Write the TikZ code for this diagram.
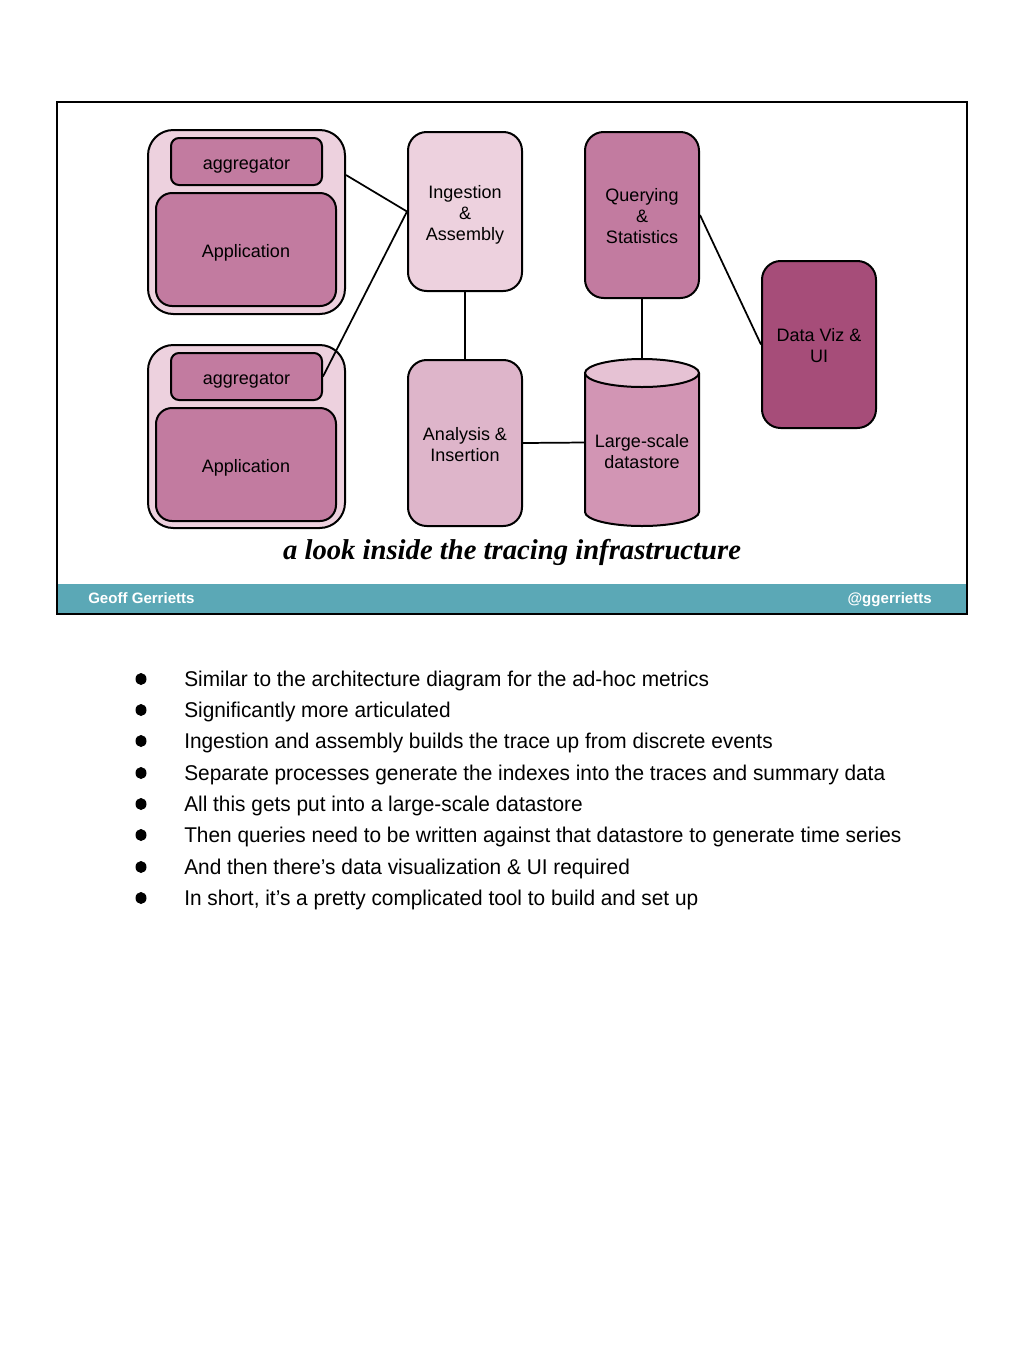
\documentclass[tikz,border=0pt]{standalone}
\usepackage{fontspec}
\setmainfont{Liberation Sans}
\newfontfamily\capfont{Liberation Serif}
\definecolor{lpink}{HTML}{EDD1DE}
\definecolor{mpink}{HTML}{C27BA0}
\definecolor{apink}{HTML}{DEB5CA}
\definecolor{cbody}{HTML}{D295B4}
\definecolor{ctop}{HTML}{E6C2D4}
\definecolor{dviz}{HTML}{A64D79}
\definecolor{teal}{HTML}{5BA8B6}
\newcommand\dn[2][-2.6pt]{\raisebox{#1}[\height][\depth]{\begin{tabular}{@{}c@{}}#2\end{tabular}}}
\tikzset{
  box/.style={draw=black, line width=1.5pt, align=center, font=\fontsize{13.5}{15.75}\selectfont, inner sep=0pt},
  conn/.style={line width=1.3pt},
  bul/.style={anchor=west, inner sep=0pt, font=\fontsize{16}{19}\selectfont, xscale=0.977},
}
\begin{document}
\begin{tikzpicture}[x=0.75pt,y=-0.75pt]
\useasboundingbox (0,0) rectangle (1024,1365);
\fill[white] (0,0) rectangle (1024,1365);
% slide
\fill[teal] (57,584) rectangle (967,614);
\draw[line width=1.2pt] (57,102) rectangle (967,614);
\node[anchor=base west, text=white, font=\fontsize{11.3}{13}\selectfont\bfseries, inner sep=0pt] (author) at (88,603) {Geoff Gerrietts};
\node[anchor=base east, text=white, font=\fontsize{11.3}{13}\selectfont\bfseries, inner sep=0pt] (handle) at (932,603) {@ggerrietts};
\node[anchor=base, font=\capfont\fontsize{21.5}{24}\selectfont\bfseries\itshape, inner sep=0pt] (caption) at (512,559) {a look inside the tracing infrastructure};
% group 1
\node[box, fill=lpink, rounded corners=19pt, minimum width=197*0.75pt, minimum height=184*0.75pt] (g1) at (246.5,222) {};
\node[box, fill=mpink, rounded corners=6pt, minimum width=151*0.75pt, minimum height=47*0.75pt] (agg1) at (246.5,161.5) {\dn{aggregator}};
\node[box, fill=mpink, rounded corners=12pt, minimum width=180*0.75pt, minimum height=113*0.75pt] (app1) at (246,249.5) {\dn{Application}};
% group 2
\node[box, fill=lpink, rounded corners=19pt, minimum width=197*0.75pt, minimum height=183*0.75pt] (g2) at (246.5,436.5) {};
\node[box, fill=mpink, rounded corners=6pt, minimum width=151*0.75pt, minimum height=47*0.75pt] (agg2) at (246.5,376.5) {\dn{aggregator}};
\node[box, fill=mpink, rounded corners=12pt, minimum width=180*0.75pt, minimum height=113*0.75pt] (app2) at (246,464.5) {\dn{Application}};
% middle
\node[box, fill=lpink, rounded corners=14pt, minimum width=114*0.75pt, minimum height=159*0.75pt] (ing) at (465,211.5) {\dn{Ingestion\\\&\\Assembly}};
\node[box, fill=apink, rounded corners=14pt, minimum width=114*0.75pt, minimum height=166*0.75pt] (ana) at (465,443) {\dn[-3pt]{Analysis \&\\Insertion}};
\node[box, fill=mpink, rounded corners=14pt, minimum width=114*0.75pt, minimum height=166*0.75pt] (qry) at (642,215) {\dn{Querying\\\&\\Statistics}};
\node[box, fill=dviz, rounded corners=14pt, minimum width=114*0.75pt, minimum height=167*0.75pt] (viz) at (819,344.5) {\dn{Data Viz \&\\UI}};
% cylinder
\draw[line width=1.5pt, fill=cbody] (585,373) -- (585,512) arc[start angle=180, end angle=0, x radius=57, y radius=14] -- (699,373);
\draw[line width=1.5pt, fill=ctop] (642,373) ellipse [x radius=57, y radius=14];
\node[align=center, font=\fontsize{13.5}{15.75}\selectfont, inner sep=0pt, minimum width=114*0.75pt, minimum height=167*0.75pt] (ds) at (642,442.5) {\dn[-8.2pt]{Large-scale\\datastore}};
% connectors
\draw[conn] (g1.east |- 0,175) -- (ing.west);
\draw[conn] (agg2.east) -- (ing.west);
\draw[conn] (ing.south) -- (ana.north);
\draw[conn] (ana.east) -- (ds.west);
\draw[conn] (qry.south) -- (ds.north);
\draw[conn] (qry.east) -- (viz.west);
% bullets
\foreach \y/\t [count=\i] in {679/{Similar to the architecture diagram for the ad-hoc metrics},
  710/{Significantly more articulated},
  741/{Ingestion and assembly builds the trace up from discrete events},
  773/{Separate processes generate the indexes into the traces and summary data},
  804/{All this gets put into a large-scale datastore},
  835/{Then queries need to be written against that datastore to generate time series},
  867/{And then there’s data visualization \& UI required},
  898/{In short, it’s a pretty complicated tool to build and set up}}{
  \fill (141,\y) ellipse[x radius=5.5, y radius=6];
  \node[bul] (b\i) at (184,\y+2) {\t};
}
\end{tikzpicture}
\end{document}
